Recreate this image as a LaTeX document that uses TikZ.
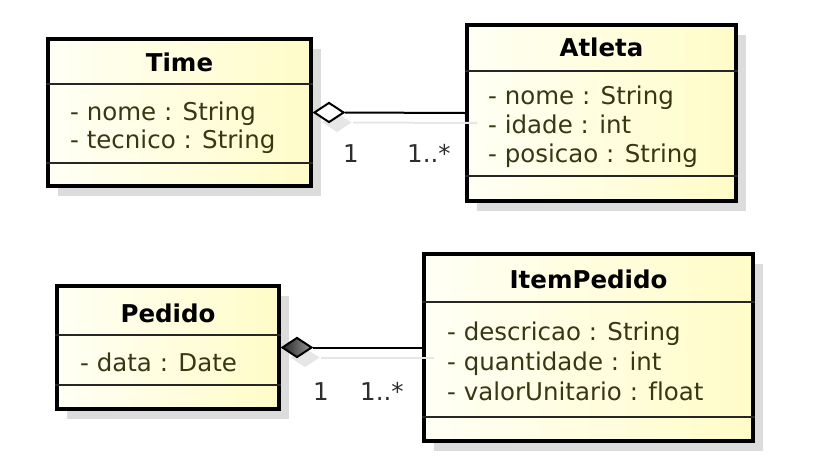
\documentclass[tikz,border=0pt]{standalone}
\usepackage{fontspec}
\setmainfont[Ligatures=CommonOff]{DejaVu Sans}
\usetikzlibrary{shapes.geometric,shadows,calc}
\definecolor{attr}{RGB}{55,55,20}
\definecolor{fillL}{RGB}{255,255,245}
\definecolor{fillR}{RGB}{255,252,200}
\definecolor{shd}{RGB}{220,220,220}
\definecolor{lbl}{RGB}{45,45,45}
\begin{document}
\begin{tikzpicture}[x=1pt,y=-1pt,
 classbox/.style={draw=black,line width=4pt,left color=fillL,right color=fillR,inner sep=0pt,
   drop shadow={shadow xshift=10pt,shadow yshift=-10pt,fill=shd,opacity=1}},
 sep/.style={line width=1.5pt,draw=black!85},
 title/.style={font=\fontsize{24.5}{28}\selectfont\bfseries,anchor=base,inner sep=0pt},
 attrtext/.style={font=\fontsize{24.5}{28}\selectfont,text=attr,anchor=base west,inner sep=0pt},
 mult/.style={font=\fontsize{24.5}{28}\selectfont,text=lbl,anchor=base west,inner sep=0pt},
 assoc/.style={line width=2pt,draw=black},
 assocshadow/.style={line width=2pt,draw=shd!70},
 diam/.style={shape=diamond,minimum width=30pt,minimum height=20pt,inner sep=0pt,line width=2pt,draw=black,anchor=west,
   drop shadow={shadow xshift=8pt,shadow yshift=-10pt,fill=shd!70,opacity=1}}
]
\useasboundingbox (0,0) rectangle (829,472);
% classes
\node[classbox,minimum width=263pt,minimum height=147pt] (time) at (179.5,112.5) {};
\node[classbox,minimum width=269pt,minimum height=176pt] (atleta) at (601.5,113) {};
\node[classbox,minimum width=222pt,minimum height=123pt] (pedido) at (168,347.5) {};
\node[classbox,minimum width=329pt,minimum height=187pt] (item) at (588.5,347.5) {};
% separators
\draw[sep] (time.west |- 0,84) -- (time.east |- 0,84);
\draw[sep] (time.west |- 0,163) -- (time.east |- 0,163);
\draw[sep] (atleta.west |- 0,71) -- (atleta.east |- 0,71);
\draw[sep] (atleta.west |- 0,176) -- (atleta.east |- 0,176);
\draw[sep] (pedido.west |- 0,335) -- (pedido.east |- 0,335);
\draw[sep] (pedido.west |- 0,385) -- (pedido.east |- 0,385);
\draw[sep] (item.west |- 0,302) -- (item.east |- 0,302);
\draw[sep] (item.west |- 0,417) -- (item.east |- 0,417);
% titles
\node[title] (timeT) at (time.center |- 0,71) {Time};
\node[title] (atletaT) at (atleta.center |- 0,56) {Atleta};
\node[title] (pedidoT) at (pedido.center |- 0,322) {Pedido};
\node[title] (itemT) at (item.center |- 0,288) {ItemPedido};
% attributes
\node[attrtext] (timeA1) at (70,120) {- nome : String};
\node[attrtext] (timeA2) at (70,148) {- tecnico : String};
\node[attrtext] (atletaA1) at (488,104) {- nome : String};
\node[attrtext] (atletaA2) at (488,133) {- idade : int};
\node[attrtext] (atletaA3) at (488,162) {- posicao : String};
\node[attrtext] (pedidoA1) at (80,371) {- data : Date};
\node[attrtext] (itemA1) at (447,340) {- descricao : String};
\node[attrtext] (itemA2) at (447,370) {- quantidade : int};
\node[attrtext] (itemA3) at (447,400) {- valorUnitario : float};
% diamonds
\node[diam,fill=white] (timeD) at (time.east) {};
\node[diam,left color=black!85,right color=black!40] (pedidoD) at (pedido.east) {};
% connectors
\draw[assocshadow] ($(timeD.east)+(8,10)$) -- ($(atleta.west)+(12,10)$);
\draw[assoc] (timeD.east) -- (atleta.west);
\draw[assocshadow] ($(pedidoD.east)+(8,10)$) -- ($(item.west)+(12,10)$);
\draw[assoc] (pedidoD.east) -- (item.west);
% multiplicities
\node[mult] (m1) at (343,162) {1};
\node[mult] (m2) at (407,162) {1..*};
\node[mult] (m3) at (313,400) {1};
\node[mult] (m4) at (360,400) {1..*};
\end{tikzpicture}
\end{document}
